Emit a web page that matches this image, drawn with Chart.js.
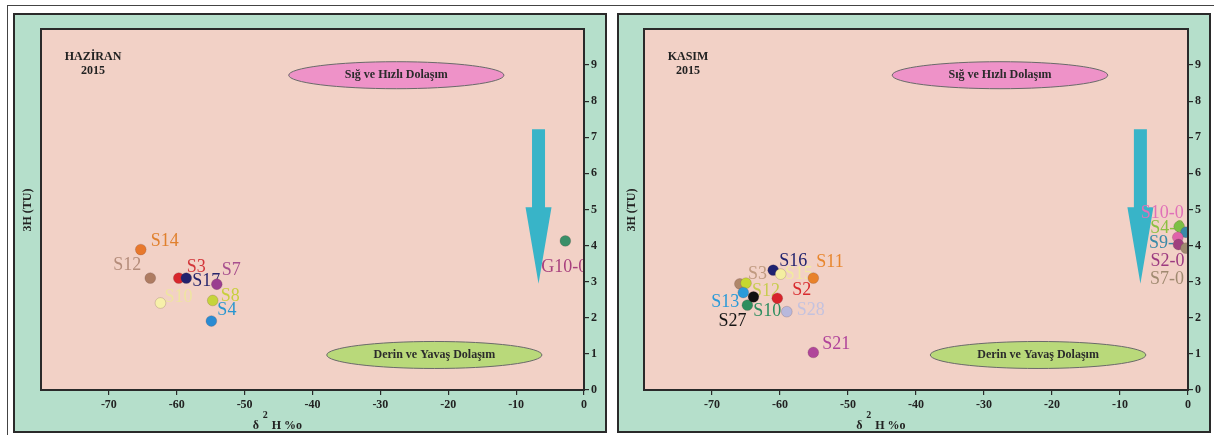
<!DOCTYPE html>
<html>
<head>
<meta charset="utf-8">
<script src="https://cdn.jsdelivr.net/npm/chart.js@4/dist/chart.umd.min.js"></script>
<style>
  html, body { margin: 0; padding: 0; background: #ffffff; }
  #page { position: relative; width: 1214px; height: 435px; overflow: hidden; }
  #rule { position: absolute; left: 7px; top: 5px; width: 1207px; height: 430px;
          border-top: 1px solid #444; border-left: 1px solid #444; box-sizing: border-box; }
  canvas { position: absolute; }
  #cHaziran { left: 13px; top: 13px; }
  #cKasim { left: 617px; top: 13px; }
</style>
</head>
<body>
<div id="page">
  <div id="rule"></div>
  <canvas id="cHaziran" width="594" height="420"></canvas>
  <canvas id="cKasim" width="594" height="420"></canvas>
</div>
<script>
// ---- Axis ticks ----
const xTicks = [-70, -60, -50, -40, -30, -20, -10, 0];
const yTicks = [0, 1, 2, 3, 4, 5, 6, 7, 8, 9];

// ---- June 2015 (HAZİRAN) samples ----
const haziranNames = ['S14', 'S12', 'S3', 'S17', 'S7', 'S10', 'S8', 'S4', 'G10-0'];
const haziranD2H = [-65.3, -63.9, -59.7, -58.6, -54.1, -62.4, -54.7, -54.9, -2.75];
const haziranTritium = [3.89, 3.10, 3.10, 3.10, 2.93, 2.41, 2.48, 1.91, 4.13];

// ---- November 2015 (KASIM) samples ----
const kasimNames = ['S3', 'S12', 'S13', 'S10', 'S27', 'S16', 'S15', 'S2', 'S11', 'S28', 'S21',
                    'S4-0', 'S9-0', 'S10-0', 'S2-0', 'S7-0'];
const kasimD2H = [-65.9, -65.0, -65.4, -64.8, -63.9, -61.0, -59.9, -60.4, -55.1, -59.0, -55.1,
                  -1.3, -0.3, -1.5, -1.4, -0.3];
const kasimTritium = [2.94, 2.96, 2.70, 2.35, 2.58, 3.32, 3.21, 2.54, 3.10, 2.17, 1.04,
                      4.53, 4.37, 4.23, 4.03, 3.93];

// ---- Marker / label styling ----
const haziranPointColors = ['#e8782c', '#ae7c62', '#d8262c', '#22226e', '#9a3e90', '#f7f0aa', '#c6d43c', '#2a8bd2', '#3a8f68'];
const haziranLabelColors = ['#e0802e', '#b48c7a', '#d3363a', '#26256c', '#a8508e', '#efe4a2', '#c8cf3e', '#2a96d0', '#a8407e'];
// [dx, dy, align] relative to each marker
const haziranLabelPlace = [[10, -8, 'left'], [-9, -13, 'right'], [8, -11, 'left'], [6, 3, 'left'], [5, -14, 'left'],
                           [4, -6, 'left'], [8, -4, 'left'], [6, -11, 'left'], [-24, 26, 'left']];

const kasimPointColors = ['#b0876a', '#c6d830', '#2a9ad8', '#2e8e5e', '#111111', '#1e2270', '#f4eea0', '#d8232a', '#e8822a', '#b8b8dc', '#b0469a',
                          '#7cc044', '#3a8aa8', '#e062aa', '#a0407e', '#a08a70'];
const kasimLabelColors = ['#c09a80', '#c8cc50', '#2a9ad8', '#2e8e60', '#151515', '#22236e', '#f2eaa0', '#d82a2e', '#e8862e', '#c4c2de', '#b0449a',
                          '#8cc040', '#3a8aa8', '#e070b8', '#9c3a80', '#a08a70'];
const kasimLabelPlace = [[8, -10, 'left'], [6, 8, 'left'], [-4, 10, 'right'], [6, 6, 'left'], [-7, 24, 'right'],
                         [6, -9, 'left'], [4, 0, 'left'], [15, -8, 'left'], [3, -16, 'left'], [10, -1, 'left'], [9, -8, 'left'],
                         [5, 2, 'right'], [-3, 11, 'right'], [6, -24, 'right'], [6, 17, 'right'], [-2, 31, 'right']];

// ---- Circulation zones and flow arrow (data units) ----
const zoneShallow = { text: 'Sığ ve Hızlı Dolaşım', from: -43.5, to: -11.8, y: 8.72, fill: '#ee92c8' };
const zoneDeep = { text: 'Derin ve Yavaş Dolaşım', from: -37.9, to: -6.2, y: 0.97, fill: '#b9d97a' };
const flowArrow = { x: -6.7, top: 7.22, headBase: 5.06, tip: 2.94 };

const GREEN = '#b5dfcb';
const PINK = '#f2d1c6';
const INK = '#2a2a2a';
const SERIF = '"Liberation Serif", "DejaVu Serif", serif';

const panelPlugin = {
  id: 'panel',
  beforeDraw(chart, args, o) {
    const ctx = chart.ctx, a = chart.chartArea;
    ctx.save();
    ctx.fillStyle = GREEN;
    ctx.fillRect(0, 0, chart.width, chart.height);
    ctx.strokeStyle = INK;
    ctx.lineWidth = 2;
    ctx.strokeRect(1, 1, chart.width - 2, chart.height - 2);
    ctx.fillStyle = PINK;
    ctx.fillRect(a.left, a.top, a.right - a.left, a.bottom - a.top);
    ctx.restore();
  },
  beforeDatasetsDraw(chart, args, o) {
    const ctx = chart.ctx, a = chart.chartArea;
    const xs = chart.scales.x, ys = chart.scales.y;
    ctx.save();
    ctx.beginPath();
    ctx.rect(a.left, a.top, a.right - a.left, a.bottom - a.top);
    ctx.clip();
    // zones
    [zoneShallow, zoneDeep].forEach(z => {
      const x1 = xs.getPixelForValue(z.from), x2 = xs.getPixelForValue(z.to);
      const cy = ys.getPixelForValue(z.y);
      ctx.beginPath();
      ctx.ellipse((x1 + x2) / 2, cy, (x2 - x1) / 2, 13.5, 0, 0, Math.PI * 2);
      ctx.fillStyle = z.fill;
      ctx.fill();
      ctx.lineWidth = 1;
      ctx.strokeStyle = '#6a6a6a';
      ctx.stroke();
      ctx.fillStyle = '#2b2b2b';
      ctx.font = 'bold 12px ' + SERIF;
      ctx.textAlign = 'center';
      ctx.textBaseline = 'middle';
      ctx.fillText(z.text, (x1 + x2) / 2, cy);
    });
    // arrow
    const ax = xs.getPixelForValue(o.arrowX);
    const yTop = ys.getPixelForValue(flowArrow.top);
    const yBase = ys.getPixelForValue(flowArrow.headBase);
    const yTip = ys.getPixelForValue(flowArrow.tip);
    ctx.beginPath();
    ctx.moveTo(ax - 6.5, yTop);
    ctx.lineTo(ax + 6.5, yTop);
    ctx.lineTo(ax + 6.5, yBase);
    ctx.lineTo(ax + 13, yBase);
    ctx.lineTo(ax, yTip);
    ctx.lineTo(ax - 13, yBase);
    ctx.lineTo(ax - 6.5, yBase);
    ctx.closePath();
    ctx.fillStyle = '#38b4c8';
    ctx.fill();
    // sample labels
    const meta = chart.getDatasetMeta(0);
    ctx.font = '18px ' + SERIF;
    ctx.textBaseline = 'middle';
    meta.data.forEach((pt, i) => {
      const p = o.place[i];
      ctx.fillStyle = o.labelColors[i];
      ctx.textAlign = p[2];
      ctx.fillText(o.names[i], pt.x + p[0], pt.y + p[1]);
    });
    ctx.restore();
  },
  afterDraw(chart, args, o) {
    const ctx = chart.ctx, a = chart.chartArea;
    ctx.save();
    ctx.strokeStyle = INK;
    ctx.lineWidth = 2;
    ctx.strokeRect(a.left, a.top, a.right - a.left, a.bottom - a.top);
    ctx.fillStyle = '#222';
    ctx.font = 'bold 12px ' + SERIF;
    ctx.textAlign = 'center';
    ctx.textBaseline = 'middle';
    ctx.fillText(o.title, o.titleX, 44);
    ctx.fillText('2015', o.titleX, 58);
    // y title
    ctx.save();
    ctx.translate(o.yTitleX, 197);
    ctx.rotate(-Math.PI / 2);
    ctx.fillText('3H (TU)', 0, 0);
    ctx.restore();
    // x title: δ ²H %o
    const xs = chart.scales.x;
    const dx = xs.getPixelForValue(-48.8);
    ctx.textAlign = 'left';
    ctx.fillText('δ', dx, 413);
    ctx.font = 'bold 10px ' + SERIF;
    ctx.fillText('2', dx + 10, 402);
    ctx.font = 'bold 12px ' + SERIF;
    ctx.fillText('H %o', dx + 19, 413);
    ctx.restore();
  }
};

function makeChart(id, names, xs, ys, pointColors, labelColors, place, extra) {
  const tickFont = { family: SERIF, size: 12, weight: 'bold' };
  return new Chart(document.getElementById(id), {
    type: 'scatter',
    data: {
      datasets: [{
        data: xs.map((x, i) => ({ x: x, y: ys[i] })),
        pointRadius: 5.4,
        pointHoverRadius: 5.4,
        pointBackgroundColor: pointColors,
        pointBorderColor: pointColors.map(() => 'rgba(90,60,60,0.35)'),
        pointBorderWidth: 0.6
      }]
    },
    options: {
      responsive: false,
      animation: false,
      devicePixelRatio: 1,
      layout: { padding: { left: extra.padLeft, top: 16, right: 0, bottom: 0 } },
      plugins: {
        legend: { display: false },
        tooltip: { enabled: false },
        panel: {
          names: names, labelColors: labelColors, place: place,
          title: extra.title, titleX: extra.titleX, yTitleX: extra.yTitleX, arrowX: extra.arrowX
        }
      },
      scales: {
        x: {
          type: 'linear', position: 'bottom', min: -80, max: 0,
          afterBuildTicks: s => { s.ticks = xTicks.map(v => ({ value: v })); },
          afterFit: s => { s.height = 43; },
          grid: { drawOnChartArea: false, drawTicks: true, tickLength: 5, color: INK, lineWidth: 1.2 },
          border: { display: true, color: INK, width: 2 },
          ticks: { color: '#222', font: tickFont, padding: 3, maxRotation: 0, autoSkip: false }
        },
        y: {
          type: 'linear', position: 'right', min: 0, max: 10,
          afterBuildTicks: s => { s.ticks = yTicks.map(v => ({ value: v })); },
          afterFit: s => { s.width = 23; },
          grid: { drawOnChartArea: false, drawTicks: true, tickLength: 5, color: INK, lineWidth: 1.2 },
          border: { display: true, color: INK, width: 2 },
          ticks: { color: '#222', font: tickFont, padding: 2, autoSkip: false }
        }
      }
    },
    plugins: [panelPlugin]
  });
}

makeChart('cHaziran', haziranNames, haziranD2H, haziranTritium, haziranPointColors, haziranLabelColors, haziranLabelPlace,
  { padLeft: 28, title: 'HAZİRAN', titleX: 80, yTitleX: 15, arrowX: flowArrow.x });
makeChart('cKasim', kasimNames, kasimD2H, kasimTritium, kasimPointColors, kasimLabelColors, kasimLabelPlace,
  { padLeft: 27, title: 'KASIM', titleX: 71, yTitleX: 15, arrowX: -7.0 });
</script>
</body>
</html>
